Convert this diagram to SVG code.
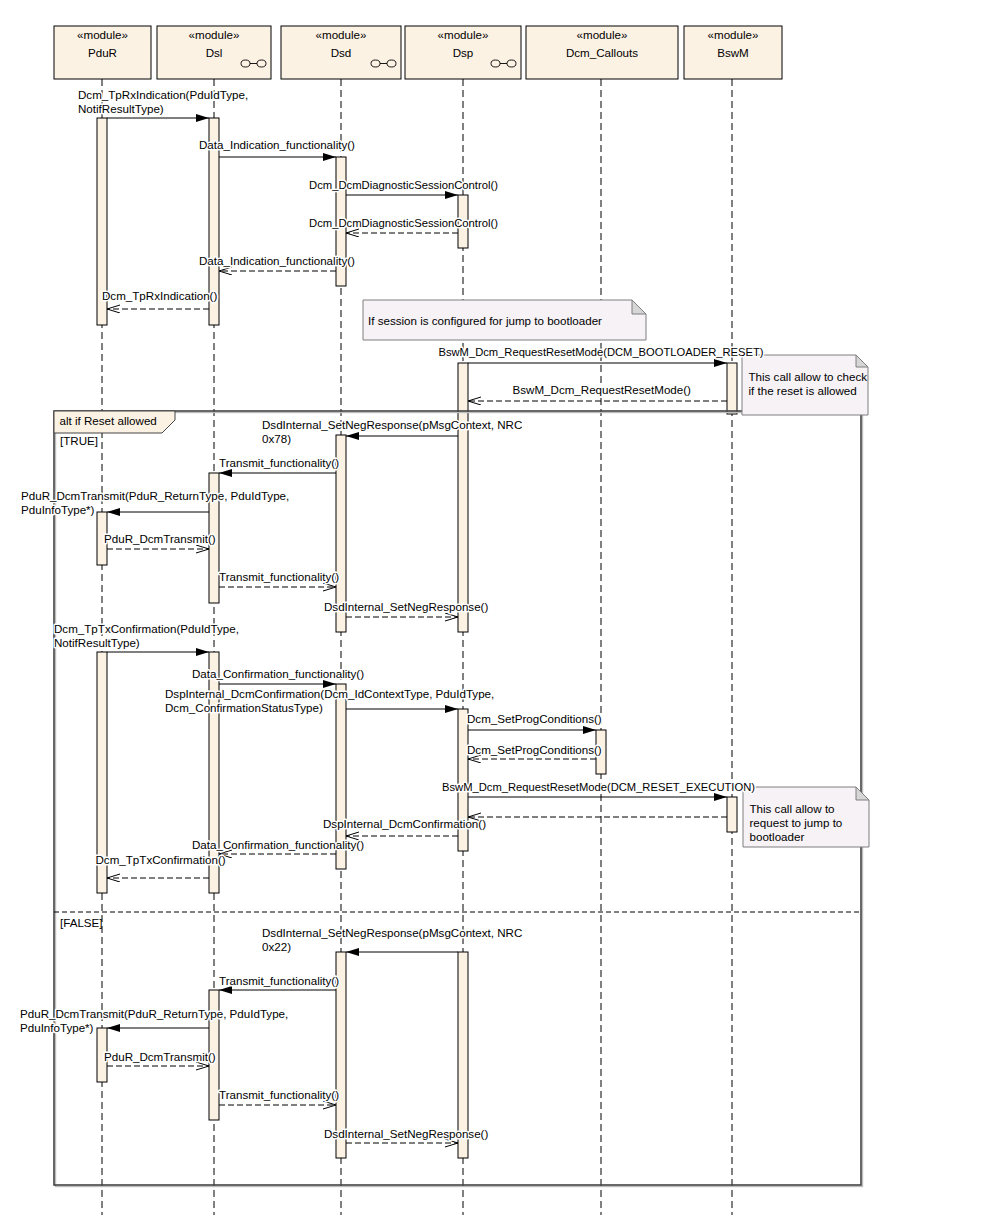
<svg xmlns="http://www.w3.org/2000/svg" width="1007" height="1215" viewBox="0 0 1007 1215">
<style>
text{font-family:"Liberation Sans",Arial,sans-serif;font-size:11.6px;fill:#000}
.hdr{fill:#FCF2E4;stroke:#000;stroke-width:1}
.mid{text-anchor:middle}
.life{stroke:#000;stroke-width:1;stroke-dasharray:7,4;fill:none}
.act{fill:#FCF2E4;stroke:#000;stroke-width:1}
.icon{fill:none;stroke:#000;stroke-width:0.9}
.sync{stroke:#000;stroke-width:1;fill:none;marker-end:url(#filled)}
.reply{stroke:#000;stroke-width:1;fill:none;stroke-dasharray:6,3;marker-end:url(#open)}
.lbl{stroke:#fff;stroke-width:3;stroke-linejoin:round;paint-order:stroke}
.note{fill:#F6F2F6;stroke:#7f7f7f;stroke-width:1}
.fold{fill:#D6D6D6;stroke:#7f7f7f;stroke-width:1}
.frame{fill:none;stroke:#444;stroke-width:1.6}
.frameshadow{fill:none;stroke:#bdbdbd;stroke-width:1.4}
</style>
<defs>
<marker id="filled" markerUnits="userSpaceOnUse" markerWidth="14" markerHeight="10" refX="13" refY="4" orient="auto">
<path d="M0,0 L13,4 L0,8 Z" fill="#000" stroke="none"/>
</marker>
<marker id="open" markerUnits="userSpaceOnUse" markerWidth="14" markerHeight="10" refX="13" refY="4" orient="auto">
<path d="M0,0 L13,4 L0,8" fill="none" stroke="#000" stroke-width="1" stroke-dasharray="none"/>
</marker>
</defs>
<rect width="1007" height="1215" fill="#fff"/>

<g id="PduR">
<rect class="hdr" x="54" y="26" width="97" height="53"/>
<text class="mid" x="102.5" y="39">«module»</text>
<text class="mid" x="102.5" y="57">PduR</text>
<line class="life" x1="102" y1="79" x2="102" y2="1215"/>
<rect class="act" x="97" y="118" width="10" height="207"/>
<rect class="act" x="97" y="512" width="10" height="53"/>
<rect class="act" x="97" y="652" width="10" height="241"/>
<rect class="act" x="97" y="1028" width="10" height="54"/>
</g>

<g id="Dsl">
<rect class="hdr" x="157" y="26" width="114" height="53"/>
<text class="mid" x="214" y="39">«module»</text>
<text class="mid" x="214" y="57">Dsl</text>
<ellipse class="icon" cx="245.5" cy="63.5" rx="4.5" ry="3.5"/><line class="icon" x1="250" y1="63.5" x2="257" y2="63.5"/><ellipse class="icon" cx="261.5" cy="63.5" rx="4.5" ry="3.5"/>
<line class="life" x1="214" y1="79" x2="214" y2="1215"/>
<rect class="act" x="209" y="118" width="10" height="207"/>
<rect class="act" x="209" y="473" width="10" height="130"/>
<rect class="act" x="209" y="652" width="10" height="241"/>
<rect class="act" x="209" y="990" width="10" height="130"/>
</g>

<g id="Dsd">
<rect class="hdr" x="281" y="26" width="120" height="53"/>
<text class="mid" x="341" y="39">«module»</text>
<text class="mid" x="341" y="57">Dsd</text>
<ellipse class="icon" cx="375.5" cy="63.5" rx="4.5" ry="3.5"/><line class="icon" x1="380" y1="63.5" x2="387" y2="63.5"/><ellipse class="icon" cx="391.5" cy="63.5" rx="4.5" ry="3.5"/>
<line class="life" x1="341" y1="79" x2="341" y2="1215"/>
<rect class="act" x="336" y="157" width="10" height="129"/>
<rect class="act" x="336" y="435" width="10" height="197"/>
<rect class="act" x="336" y="684" width="10" height="185"/>
<rect class="act" x="336" y="952" width="10" height="206"/>
</g>

<g id="Dsp">
<rect class="hdr" x="405" y="26" width="116" height="53"/>
<text class="mid" x="463" y="39">«module»</text>
<text class="mid" x="463" y="57">Dsp</text>
<ellipse class="icon" cx="495.5" cy="63.5" rx="4.5" ry="3.5"/><line class="icon" x1="500" y1="63.5" x2="507" y2="63.5"/><ellipse class="icon" cx="511.5" cy="63.5" rx="4.5" ry="3.5"/>
<line class="life" x1="463" y1="79" x2="463" y2="1215"/>
<rect class="act" x="458" y="195" width="10" height="53"/>
<rect class="act" x="458" y="363" width="10" height="269"/>
<rect class="act" x="458" y="709" width="10" height="142"/>
<rect class="act" x="458" y="952" width="10" height="206"/>
</g>

<g id="Dcm_Callouts">
<rect class="hdr" x="526" y="26" width="152" height="53"/>
<text class="mid" x="602" y="39">«module»</text>
<text class="mid" x="602" y="57">Dcm_Callouts</text>
<line class="life" x1="601" y1="79" x2="601" y2="1215"/>
<rect class="act" x="596" y="730" width="10" height="44"/>
</g>

<g id="BswM">
<rect class="hdr" x="684" y="26" width="98" height="53"/>
<text class="mid" x="733" y="39">«module»</text>
<text class="mid" x="733" y="57">BswM</text>
<line class="life" x1="732" y1="79" x2="732" y2="1215"/>
<rect class="act" x="727" y="363" width="10" height="51"/>
<rect class="act" x="727" y="797" width="10" height="35"/>
</g>

<g id="alt_frame">
<rect class="frameshadow" x="55.5" y="412.5" width="807" height="774"/>
<rect class="frame" x="54" y="411" width="807" height="774"/>
<polygon points="54,411 175,411 175,420 162,433 54,433" fill="#FCF2E4" stroke="#444" stroke-width="1"/>
<text x="59.5" y="425">alt if Reset allowed</text>
<text x="60" y="445">[TRUE]</text>
<line x1="54" y1="912" x2="861" y2="912" stroke="#000" stroke-width="1" stroke-dasharray="5,3"/>
<text x="60" y="927">[FALSE]</text>
</g>

<g id="note_bootloader">
<polygon class="note" points="363,300 632,300 646,314 646,340 363,340"/>
<polygon class="fold" points="632,300 632,314 646,314"/>
<text x="368" y="325">If session is configured for jump to bootloader</text>
</g>

<g id="note_check">
<polygon class="note" points="742,355 856,355 868,367 868,415 742,415"/>
<polygon class="fold" points="856,355 856,367 868,367"/>
<text x="748.5" y="381">This call allow to check</text>
<text x="748.5" y="395">if the reset is allowed</text>
</g>

<g id="note_jump">
<polygon class="note" points="743,787 856,787 869,800 869,847 743,847"/>
<polygon class="fold" points="856,787 856,800 869,800"/>
<text x="749.5" y="813">This call allow to</text>
<text x="749.5" y="827">request to jump to</text>
<text x="749.5" y="841">bootloader</text>
</g>

<g id="connectors">
<line class="sync" x1="107" y1="118" x2="209" y2="118"/>
<text class="lbl" x="78" y="99">Dcm_TpRxIndication(PduIdType,</text>
<text class="lbl" x="78" y="113">NotifResultType)</text>

<line class="sync" x1="219" y1="157" x2="336" y2="157"/>
<text class="lbl" x="199" y="149">Data_Indication_functionality()</text>

<line class="sync" x1="346" y1="195" x2="458" y2="195"/>
<text class="lbl" x="309" y="189" textLength="189" lengthAdjust="spacingAndGlyphs">Dcm_DcmDiagnosticSessionControl()</text>

<line class="reply" x1="458" y1="233" x2="346" y2="233"/>
<text class="lbl" x="309" y="227" textLength="189" lengthAdjust="spacingAndGlyphs">Dcm_DcmDiagnosticSessionControl()</text>

<line class="reply" x1="336" y1="271" x2="219" y2="271"/>
<text class="lbl" x="199" y="265">Data_Indication_functionality()</text>

<line class="reply" x1="209" y1="309" x2="107" y2="309"/>
<text class="lbl" x="102" y="300">Dcm_TpRxIndication()</text>

<line class="sync" x1="468" y1="363" x2="727" y2="363"/>
<text class="lbl" x="438.5" y="356" textLength="325" lengthAdjust="spacingAndGlyphs">BswM_Dcm_RequestResetMode(DCM_BOOTLOADER_RESET)</text>

<line class="reply" x1="727" y1="401" x2="468" y2="401"/>
<text class="lbl" x="512.5" y="394">BswM_Dcm_RequestResetMode()</text>

<line class="sync" x1="458" y1="436" x2="346" y2="436"/>
<text class="lbl" x="262" y="429">DsdInternal_SetNegResponse(pMsgContext, NRC</text>
<text class="lbl" x="262" y="443">0x78)</text>

<line class="sync" x1="336" y1="473" x2="219" y2="473"/>
<text class="lbl" x="219" y="467">Transmit_functionality()</text>

<line class="sync" x1="209" y1="512" x2="107" y2="512"/>
<text class="lbl" x="21" y="500">PduR_DcmTransmit(PduR_ReturnType, PduIdType,</text>
<text class="lbl" x="21" y="514">PduInfoType*)</text>

<line class="reply" x1="107" y1="549" x2="209" y2="549"/>
<text class="lbl" x="104" y="543">PduR_DcmTransmit()</text>

<line class="reply" x1="219" y1="587" x2="336" y2="587"/>
<text class="lbl" x="219" y="581">Transmit_functionality()</text>

<line class="reply" x1="346" y1="617" x2="458" y2="617"/>
<text class="lbl" x="324" y="611">DsdInternal_SetNegResponse()</text>

<line class="sync" x1="107" y1="652" x2="209" y2="652"/>
<text class="lbl" x="54" y="633">Dcm_TpTxConfirmation(PduIdType,</text>
<text class="lbl" x="54" y="647">NotifResultType)</text>

<line class="sync" x1="219" y1="684" x2="336" y2="684"/>
<text class="lbl" x="192" y="678">Data_Confirmation_functionality()</text>

<line class="sync" x1="346" y1="709" x2="458" y2="709"/>
<text class="lbl" x="165" y="698">DspInternal_DcmConfirmation(Dcm_IdContextType, PduIdType,</text>
<text class="lbl" x="165" y="712">Dcm_ConfirmationStatusType)</text>

<line class="sync" x1="468" y1="730" x2="596" y2="730"/>
<text class="lbl" x="467" y="723">Dcm_SetProgConditions()</text>

<line class="reply" x1="596" y1="759" x2="468" y2="759"/>
<text class="lbl" x="467" y="754">Dcm_SetProgConditions()</text>

<line class="sync" x1="468" y1="797" x2="727" y2="797"/>
<text class="lbl" x="442" y="791" textLength="313" lengthAdjust="spacingAndGlyphs">BswM_Dcm_RequestResetMode(DCM_RESET_EXECUTION)</text>

<line class="reply" x1="727" y1="817" x2="468" y2="817"/>

<line class="reply" x1="458" y1="836" x2="346" y2="836"/>
<text class="lbl" x="323" y="828">DspInternal_DcmConfirmation()</text>

<line class="reply" x1="336" y1="854" x2="219" y2="854"/>
<text class="lbl" x="192" y="849">Data_Confirmation_functionality()</text>

<line class="reply" x1="209" y1="878" x2="107" y2="878"/>
<text class="lbl" x="95.5" y="864">Dcm_TpTxConfirmation()</text>

<line class="sync" x1="458" y1="952" x2="346" y2="952"/>
<text class="lbl" x="262" y="937">DsdInternal_SetNegResponse(pMsgContext, NRC</text>
<text class="lbl" x="262" y="951">0x22)</text>

<line class="sync" x1="336" y1="990" x2="219" y2="990"/>
<text class="lbl" x="219" y="985">Transmit_functionality()</text>

<line class="sync" x1="209" y1="1028" x2="107" y2="1028"/>
<text class="lbl" x="20" y="1018">PduR_DcmTransmit(PduR_ReturnType, PduIdType,</text>
<text class="lbl" x="20" y="1032">PduInfoType*)</text>

<line class="reply" x1="107" y1="1066" x2="209" y2="1066"/>
<text class="lbl" x="104" y="1061">PduR_DcmTransmit()</text>

<line class="reply" x1="219" y1="1105" x2="336" y2="1105"/>
<text class="lbl" x="219" y="1099">Transmit_functionality()</text>

<line class="reply" x1="346" y1="1143" x2="458" y2="1143"/>
<text class="lbl" x="324" y="1138">DsdInternal_SetNegResponse()</text>
</g>
</svg>
